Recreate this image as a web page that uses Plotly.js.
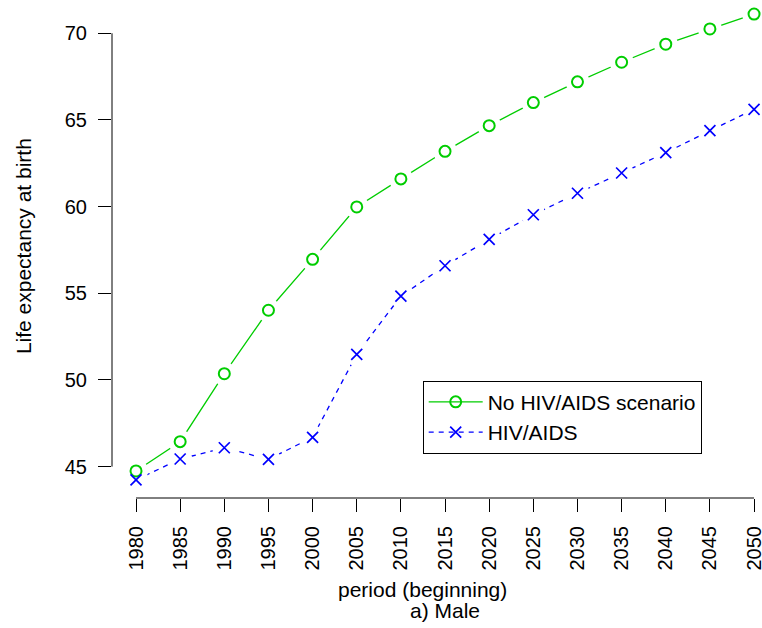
<!DOCTYPE html>
<html>
<head>
<meta charset="utf-8">
<script src="https://cdn.plot.ly/plotly-3.0.1.min.js"></script>
<style>html,body{margin:0;padding:0;background:#fff;}#chart{width:762px;height:628px;}</style>
</head>
<body>
<div id="chart"></div>
<script>
// Data
const years = [1980, 1985, 1990, 1995, 2000, 2005, 2010, 2015, 2020, 2025, 2030, 2035, 2040, 2045, 2050];
const noHivAids = [44.75, 46.44, 50.36, 54.02, 56.96, 59.98, 61.6, 63.19, 64.67, 66.0, 67.2, 68.33, 69.37, 70.25, 71.11];
const hivAids = [44.23, 45.44, 46.09, 45.42, 46.69, 51.48, 54.84, 56.59, 58.11, 59.53, 60.77, 61.94, 63.11, 64.38, 65.61];
const yTicks = [45, 50, 55, 60, 65, 70];
const seriesNames = ["No HIV/AIDS scenario", "HIV/AIDS"];
const xTitle = "period (beginning)";
const subTitle = "a) Male";
const yTitle = "Life expectancy at birth";

const GREEN = "#00CD00";
const BLUE = "#0000FF";
const FONT = "Liberation Sans, Arial, sans-serif";

const traces = [
  {x: years, y: noHivAids, name: seriesNames[0], mode: "lines+markers",
   line: {color: GREEN, width: 1.3},
   marker: {symbol: "circle-open", size: 11, color: GREEN, line: {width: 2, color: GREEN}}},
  {x: years, y: hivAids, name: seriesNames[1], mode: "lines+markers",
   line: {color: BLUE, width: 1.3, dash: "5px,5px"},
   marker: {symbol: "x-thin-open", size: 11, color: BLUE, line: {width: 1.7, color: BLUE}}},
  // white masks to create gaps around points (R type = "b")
  {x: years, y: noHivAids, mode: "markers", showlegend: false, hoverinfo: "skip",
   marker: {symbol: "circle", size: 24, color: "#ffffff", line: {width: 0}}},
  {x: years, y: hivAids, mode: "markers", showlegend: false, hoverinfo: "skip",
   marker: {symbol: "circle", size: 24, color: "#ffffff", line: {width: 0}}},
  {x: years, y: noHivAids, mode: "markers", showlegend: false, hoverinfo: "skip",
   marker: {symbol: "circle-open", size: 11, color: GREEN, line: {width: 2, color: GREEN}}},
  {x: years, y: hivAids, mode: "markers", showlegend: false, hoverinfo: "skip",
   marker: {symbol: "x-thin-open", size: 11, color: BLUE, line: {width: 1.7, color: BLUE}}}
];

const layout = {
  width: 762, height: 628,
  margin: {l: 112, r: 0, t: 0, b: 130, pad: 0},
  paper_bgcolor: "#ffffff", plot_bgcolor: "#ffffff",
  font: {family: FONT, size: 20, color: "#000"},
  showlegend: true,
  xaxis: {
    range: [1977.28, 2050.9],
    tickvals: years, ticktext: years.map(String),
    tickangle: -90, ticks: "outside", ticklen: 13, tickwidth: 1, tickcolor: "#000",
    ticklabelstandoff: 6, ticklabeloverflow: "allow",
    showline: false, showgrid: false, zeroline: false,
    tickfont: {family: FONT, size: 20, color: "#000"}
  },
  yaxis: {
    range: [43.19, 71.92],
    tickvals: yTicks, ticktext: yTicks.map(String),
    ticks: "outside", ticklen: 13, tickwidth: 1, tickcolor: "#000",
    ticklabelstandoff: 7, ticklabeloverflow: "allow",
    showline: false, showgrid: false, zeroline: false,
    tickfont: {family: FONT, size: 20, color: "#000"}
  },
  shapes: [
    {type: "line", xref: "paper", yref: "y", x0: 0, x1: 0, y0: yTicks[0], y1: yTicks[yTicks.length - 1],
     line: {color: "#000", width: 1}},
    {type: "line", xref: "x", yref: "paper", x0: years[0], x1: years[years.length - 1], y0: 0, y1: 0,
     line: {color: "#000", width: 1}}
  ],
  legend: {
    x: 0.478, y: 0.2355, xanchor: "left", yanchor: "top",
    bordercolor: "#000", borderwidth: 1, bgcolor: "#ffffff",
    font: {family: FONT, size: 21, color: "#000"},
    itemwidth: 54, tracegroupgap: 0
  },
  annotations: [
    {text: yTitle, xref: "paper", yref: "paper", x: -0.136, y: 0.505, textangle: -90,
     xanchor: "center", yanchor: "middle", showarrow: false, font: {family: FONT, size: 21, color: "#000"}},
    {text: xTitle, xref: "paper", yref: "paper", x: 0.477, y: -0.1837,
     xanchor: "center", yanchor: "middle", showarrow: false, font: {family: FONT, size: 21, color: "#000"}},
    {text: subTitle, xref: "paper", yref: "paper", x: 0.5123, y: -0.2269,
     xanchor: "center", yanchor: "middle", showarrow: false, font: {family: FONT, size: 21, color: "#000"}}
  ]
};

Plotly.newPlot("chart", traces, layout, {displayModeBar: false, staticPlot: true});
</script>
</body>
</html>
